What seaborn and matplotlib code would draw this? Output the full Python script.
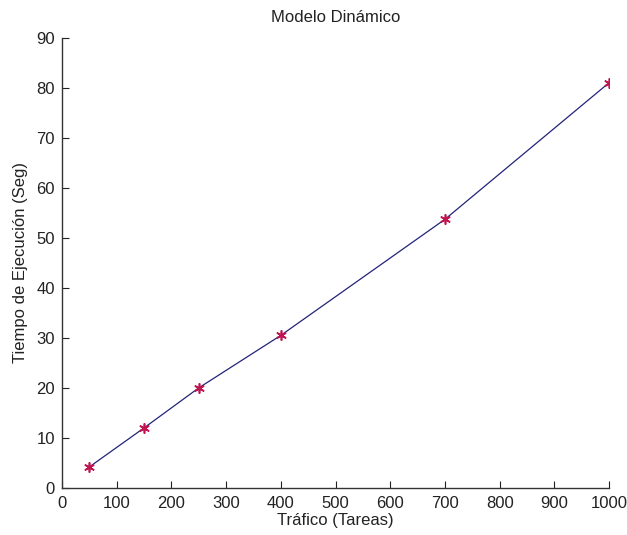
import matplotlib
matplotlib.use("Agg")
import matplotlib.pyplot as plt
import seaborn as sns
import pandas as pd

# Execution time of the dynamic model versus traffic load
trafico = [50, 150, 250, 400, 700, 1000]
tiempo = [4.2, 12.0, 20.0, 30.5, 53.7, 81.0]
xticks = [0, 100, 200, 300, 400, 500, 600, 700, 800, 900, 1000]
yticks = [0, 10, 20, 30, 40, 50, 60, 70, 80, 90]

df = pd.DataFrame({"Tráfico": trafico, "Tiempo": tiempo})

sns.set_style("white")
plt.rcParams["font.family"] = ["Liberation Sans", "DejaVu Sans"]

fig = plt.figure(figsize=(6.27, 5.35), dpi=100)
ax = fig.add_axes([0.0989, 0.088, 0.8725, 0.8415])

sns.lineplot(data=df, x="Tráfico", y="Tiempo", ax=ax, color="#23237a",
             linewidth=0.9, zorder=2)
sns.scatterplot(data=df, x="Tráfico", y="Tiempo", ax=ax, marker=(6, 2, 0),
                s=45, color="#c0154e", edgecolor="#c0154e", linewidth=1.2,
                zorder=3)

ax.set_xlim(0, 1000)
ax.set_ylim(0, 90)
ax.set_xticks(xticks)
ax.set_yticks(yticks)
ax.tick_params(direction="in", length=5, width=0.8, labelsize=12,
               colors="#222222", bottom=True, left=True)
ax.tick_params(axis="y", pad=5)
ax.tick_params(axis="x", pad=6)

for side in ("top", "right"):
    ax.spines[side].set_visible(False)
for side in ("left", "bottom"):
    ax.spines[side].set_color("#333333")
    ax.spines[side].set_linewidth(1.0)

ax.set_xlabel("Tráfico (Tareas)", fontsize=12, color="#222222", labelpad=1)
ax.set_ylabel("Tiempo de Ejecución (Seg)", fontsize=12, color="#222222", labelpad=6)
ax.set_title("Modelo Dinámico", fontsize=12, color="#222222", pad=11)

fig.savefig("out.png", dpi=100, facecolor="white")
